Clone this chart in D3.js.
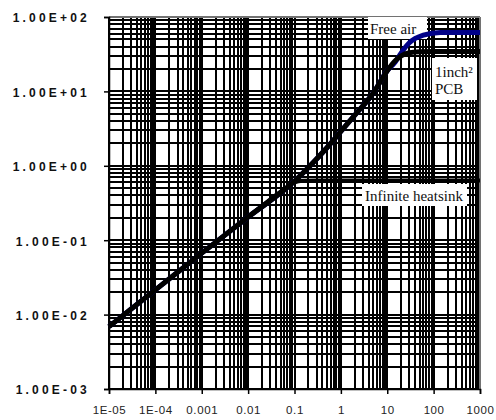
<!DOCTYPE html>
<html><head><meta charset="utf-8">
<script src="https://cdn.jsdelivr.net/npm/d3@7/dist/d3.min.js"></script>
<style>html,body{margin:0;padding:0;background:#fff;}svg{display:block;}</style>
</head><body>
<svg id="c" width="496" height="420"></svg>
<script>
const xTickValues = [1e-5, 1e-4, 1e-3, 1e-2, 0.1, 1, 10, 100, 1000];
const xTickLabels = ["1E-05", "1E-04", "0.001", "0.01", "0.1", "1", "10", "100", "1000"];
const yTickValues = [1e-3, 1e-2, 1e-1, 1, 10, 100];
const yTickLabels = ["1.00E-03", "1.00E-02", "1.00E-01", "1.00E+00", "1.00E+01", "1.00E+02"];

const heatsinkT = [1e-5, 1e-4, 1e-3, 0.01, 0.05, 0.1, 0.15, 0.3, 1000];
const heatsinkZ = [0.0069, 0.0215, 0.067, 0.205, 0.45, 0.6, 0.63, 0.635, 0.635];

const pcbT = [1e-5, 1e-4, 1e-3, 0.01, 0.1, 0.2, 0.5, 1, 2, 5, 10, 15, 20, 30, 50, 100, 1000];
const pcbZ = [0.0069, 0.0215, 0.067, 0.205, 0.62, 0.95, 1.75, 2.9, 4.8, 9.5, 19, 26, 30, 33, 34, 34.3, 34.3];

const airT = [1e-5, 1e-4, 1e-3, 0.01, 0.1, 0.2, 0.5, 1, 2, 5, 10, 15, 20, 30, 60, 140, 1000];
const airZ = [0.0069, 0.0215, 0.067, 0.205, 0.62, 0.95, 1.75, 2.9, 4.8, 9.5, 19, 25, 33, 45, 57, 62, 62];

const labels = [
  {lines: ["Free air"]},
  {lines: ["1inch²", "PCB"]},
  {lines: ["Infinite heatsink"]}
];

const svg = d3.select("#c");
const L = 109, R = 480, T = 17, B = 389;
const x = d3.scaleLog().domain([1e-5, 1000]).range([L, R]);
const y = d3.scaleLog().domain([1e-3, 100]).range([B, T]);

const xGrid = [], yGrid = [];
for (let k = -5; k <= 2; k++) for (let m = 1; m <= 9; m++) xGrid.push(m * Math.pow(10, k));
xGrid.push(1000);
for (let k = -3; k <= 1; k++) for (let m = 1; m <= 9; m++) yGrid.push(m * Math.pow(10, k));
yGrid.push(100);

const g = svg.append("g");
g.selectAll("line.vx").data(xGrid).join("line")
  .attr("x1", d => Math.round(x(d))).attr("x2", d => Math.round(x(d)))
  .attr("y1", T).attr("y2", B).attr("stroke", "#000").attr("stroke-width", 2);
g.selectAll("line.hy").data(yGrid).join("line")
  .attr("y1", d => Math.round(y(d))).attr("y2", d => Math.round(y(d)))
  .attr("x1", L).attr("x2", R).attr("stroke", "#000").attr("stroke-width", 2);

svg.append("line").attr("x1", L).attr("x2", R).attr("y1", T).attr("y2", T).attr("stroke", "#999").attr("stroke-width", 1.5);
svg.append("line").attr("x1", R).attr("x2", R).attr("y1", T).attr("y2", B).attr("stroke", "#999").attr("stroke-width", 1.5);

const yAxis = d3.axisLeft(y).tickValues(yTickValues).tickFormat((d, i) => yTickLabels[i]).tickSize(5).tickPadding(14);
const ya = svg.append("g").attr("transform", `translate(${L},0)`).call(yAxis);
ya.select(".domain").attr("stroke", "#000").attr("stroke-width", 1.5);
ya.selectAll(".tick line").attr("stroke", "#000").attr("stroke-width", 1.5);
ya.selectAll(".tick text").attr("font-family", "Liberation Sans, Arial, sans-serif")
  .attr("font-size", 12).attr("font-weight", "bold").attr("letter-spacing", "3.2px").attr("fill", "#111").attr("dy", "0.4em");

const xAxis = d3.axisBottom(x).tickValues(xTickValues).tickFormat((d, i) => xTickLabels[i]).tickSize(5).tickPadding(12);
const xa = svg.append("g").attr("transform", `translate(0,${B})`).call(xAxis);
xa.select(".domain").attr("stroke", "#000").attr("stroke-width", 1.5);
xa.selectAll(".tick line").attr("stroke", "#000").attr("stroke-width", 1.5);
xa.selectAll(".tick text").attr("font-family", "Liberation Sans, Arial, sans-serif")
  .attr("font-size", 11.5).attr("letter-spacing", "0.6px").attr("fill", "#222");

// label boxes (under the curves)
const boxes = [
  {x0: 368, y0: 17, w: 59, h: 22, tx: 370, ty: [34]},
  {x0: 432, y0: 58, w: 45, h: 42, tx: 435, ty: [77, 94]},
  {x0: 362, y0: 184, w: 105, h: 22, tx: 365, ty: [201]}
];
boxes.forEach((b, i) => {
  svg.append("rect").attr("x", b.x0).attr("y", b.y0).attr("width", b.w).attr("height", b.h).attr("fill", "#fff");
  labels[i].lines.forEach((s, j) => {
    svg.append("text").attr("x", b.tx).attr("y", b.ty[j]).text(s)
      .attr("font-family", "Liberation Serif, Times New Roman, serif").attr("font-size", 15).attr("fill", "#111");
  });
});

const line = d3.line().x(d => x(d[0])).y(d => y(d[1])).curve(d3.curveMonotoneX);
const zip = (a, b) => a.map((v, i) => [v, b[i]]);
svg.append("path").attr("d", line(zip(airT, airZ))).attr("fill", "none").attr("stroke", "#000088").attr("stroke-width", 5);
svg.append("path").attr("d", line(zip(heatsinkT, heatsinkZ))).attr("fill", "none").attr("stroke", "#000").attr("stroke-width", 4);
svg.append("path").attr("d", line(zip(pcbT, pcbZ))).attr("fill", "none").attr("stroke", "#000").attr("stroke-width", 5);
</script>
</body></html>
